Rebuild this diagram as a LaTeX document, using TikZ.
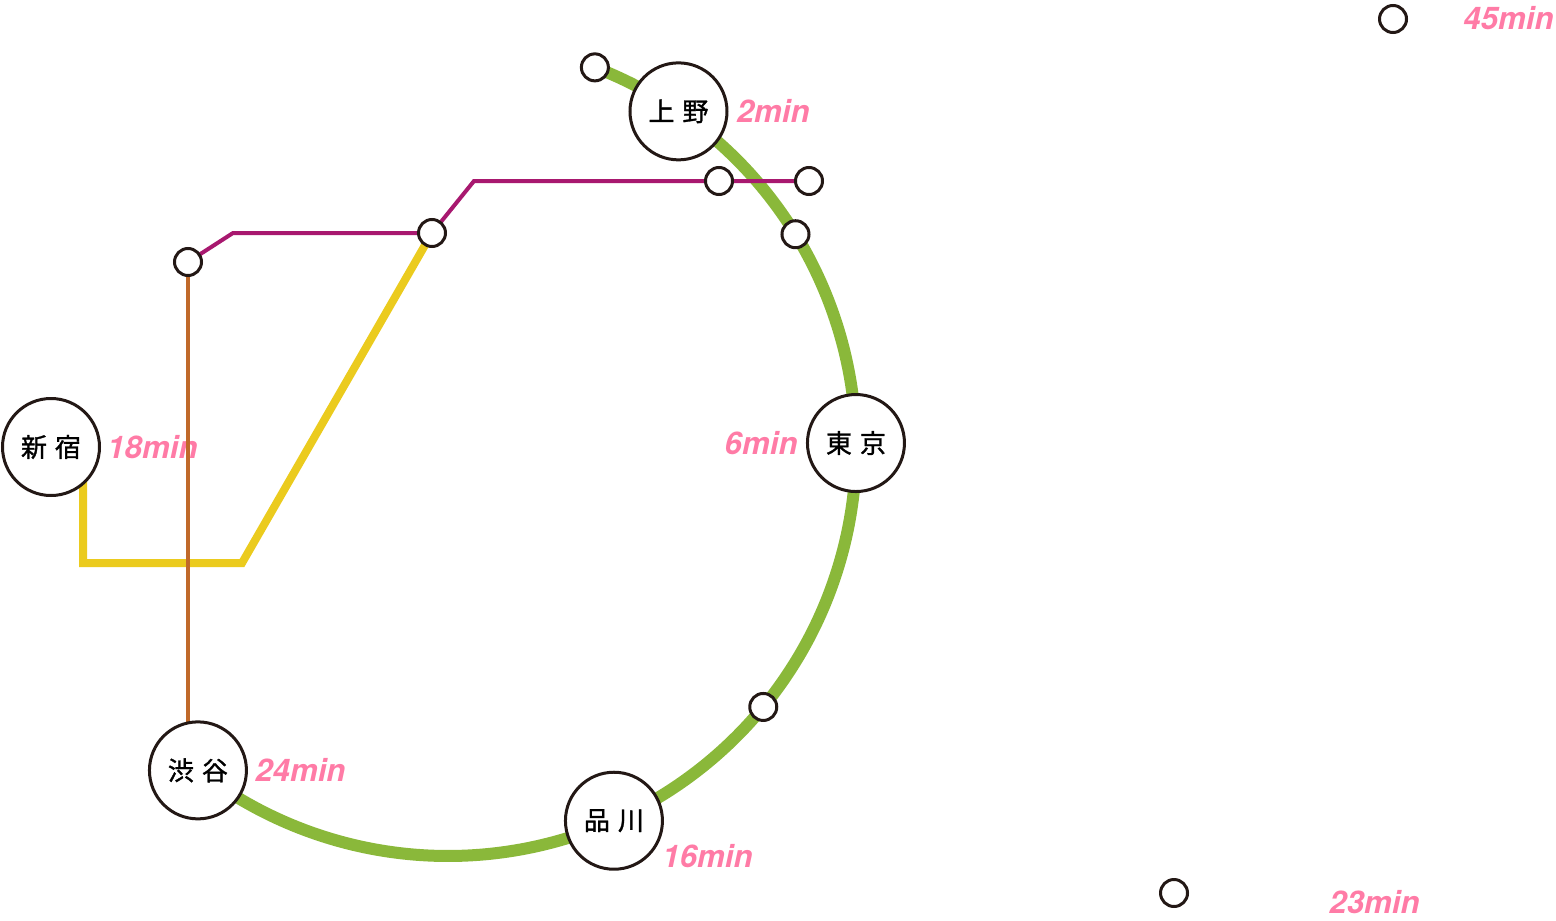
\documentclass[tikz,border=0pt]{standalone}
\usepackage{fontspec}
\newfontfamily\jpfont[FakeBold=1.2]{Noto Sans CJK JP}
\newfontfamily\minfont{TeX Gyre Heros}
\usetikzlibrary{calc}
\usetikzlibrary{positioning}
\definecolor{ink}{HTML}{231815}
\definecolor{loopgreen}{HTML}{8AB83A}
\definecolor{plum}{HTML}{A8186F}
\definecolor{mustard}{HTML}{EBCB1E}
\definecolor{rust}{HTML}{C0692A}
\definecolor{rose}{HTML}{FF7BA6}
\pgfdeclarelayer{labels}
\pgfdeclarelayer{lines}
\pgfsetlayers{labels,lines,main}

\begin{document}
\begin{tikzpicture}[x=0.5pt,y=-0.5pt,
    station/.style={circle,draw=ink,fill=white,line width=1.5pt,minimum size=48.5pt,inner sep=0pt,font=\jpfont\fontsize{13}{13}\selectfont},
    stop/.style={circle,draw=ink,fill=white,line width=1.5pt,minimum size=13.5pt,inner sep=0pt},
    mins/.style={text=rose,inner sep=0pt,font=\minfont\bfseries\itshape\fontsize{15.6}{15.6}\selectfont}]
      \useasboundingbox (0,0) rectangle (1556,920);
      \coordinate (ringc) at (448,448);
      % stations
      \node[station] (ueno) at ($(ringc)+(-55.6:408)$) {上\hspace{4pt}野};
      \node[station] (tokyo) at ($(ringc)+(-0.7:408)$) {東\hspace{4pt}京};
      \node[station] (shinagawa) at ($(ringc)+(66:408)$) {品\hspace{4pt}川};
      \node[station] (shibuya) at ($(ringc)+(127.8:408)$) {渋\hspace{4pt}谷};
      \node[station] (shinjuku) at (51,447) {新\hspace{4pt}宿};
      % small stops
      \node[stop] (north) at ($(ringc)+(-68.9:408)$) {};
      \node[stop] (ringa) at ($(ringc)+(-31.6:408)$) {};
      \node[stop] (ringb) at ($(ringc)+(39.4:408)$) {};
      \node[stop] (westa) at (188,262) {};
      \node[stop] (westb) at (432,233) {};
      \node[stop] (easta) at (719,181) {};
      \node[stop] (eastb) at (809,181) {};
      \node[stop] (fara) at (1393,19) {};
      \node[stop] (farb) at (1174,893) {};
      % minutes
      \begin{pgfonlayer}{labels}
      \node[mins,right=4pt of ueno] {2min};
      \node[mins,left=4pt of tokyo] {6min};
      \node[mins,anchor=west] at (662,856) {16min};
      \node[mins,right=3.5pt of shibuya] {24min};
      \node[mins,right=3pt of shinjuku] {18min};
      \node[mins,anchor=west] at (1463,18) {45min};
      \node[mins,anchor=west] at (1329,902) {23min};
      \end{pgfonlayer}
      % lines
      \begin{pgfonlayer}{lines}
      \draw[loopgreen,line width=6pt] (north.center) arc[start angle=-68.9,end angle=127.8,radius=408];
      \draw[plum,line width=2pt] (westa.center) -- (233,233) -- (westb.center) -- (474,181) -- (eastb.center);
      \draw[mustard,line width=4pt] ($(shinjuku.center)+(32,20)$) |- (242,563) -- (westb.center);
      \draw[rust,line width=2pt] (westa.center) -- (westa.center |- shibuya.center);
      \end{pgfonlayer}
    \end{tikzpicture}
\end{document}
